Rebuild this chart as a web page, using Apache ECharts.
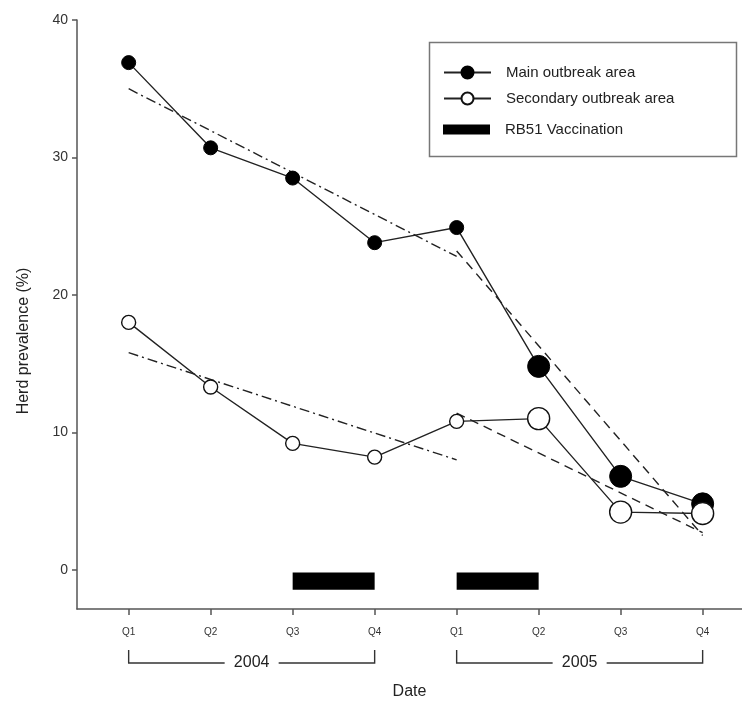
<!DOCTYPE html>
<html>
<head>
<meta charset="utf-8">
<script src="https://cdn.jsdelivr.net/npm/echarts@6/dist/echarts.min.js"></script>
<style>
  html, body { margin: 0; padding: 0; background: #fff; }
  #chart { width: 742px; height: 713px; }
</style>
</head>
<body>
<div id="chart"></div>
<script>
// quarters on the x axis (index 0..7)
const quarterLabels = ["Q1", "Q2", "Q3", "Q4", "Q1", "Q2", "Q3", "Q4"];
const mainValues = [36.9, 30.7, 28.5, 23.8, 24.9, 14.8, 6.8, 4.8];
const secondaryValues = [18.0, 13.3, 9.2, 8.2, 10.8, 11.0, 4.2, 4.1];

// fitted trend lines: [x, y] end points
const mainTrend2004 = [[0, 35.0], [4, 22.8]];
const mainTrend2005 = [[4, 23.2], [7, 2.5]];
const secondaryTrend2004 = [[0, 15.8], [4, 8.0]];
const secondaryTrend2005 = [[4, 11.4], [7, 2.7]];

// vaccination periods (quarter index start / end)
const vaccStart = [2, 4];
const vaccEnd = [3, 5];

// year brackets under the axis
const years = ["2004", "2005"];
const yearStart = [0, 4];
const yearEnd = [3, 7];

const yTicks = [0, 10, 20, 30, 40];
const Y_MIN = -2.85;
const FONT = "Liberation Sans, Arial, Helvetica, sans-serif";

const chart = echarts.init(document.getElementById("chart"));

// bigger markers for the last quarters, like the original figure
const markerSize = (val, params) => (params.dataIndex >= 5 ? 22 : 14);

const trendSeries = (name, data, dash) => ({
  name: name,
  type: "line",
  data: data,
  symbol: "none",
  silent: true,
  z: 1,
  lineStyle: { color: "#222", width: 1.4, type: dash },
});

const option = {
  animation: false,
  backgroundColor: "#fff",
  textStyle: { fontFamily: FONT },
  grid: { left: 77, right: 0, top: 20, bottom: 104 },
  legend: [
    {
      data: ["Main outbreak area", "Secondary outbreak area"],
      orient: "vertical",
      left: 443,
      top: 65,
      padding: 0,
      itemWidth: 47,
      itemHeight: 15,
      itemGap: 11,
      selectedMode: false,
      textStyle: { fontSize: 15, color: "#222", fontFamily: FONT, padding: [0, 0, 0, 10] },
    },
    {
      data: [{ name: "RB51 Vaccination", icon: "rect" }],
      orient: "vertical",
      left: 443,
      top: 122,
      padding: 0,
      itemWidth: 47,
      itemHeight: 10,
      selectedMode: false,
      textStyle: { fontSize: 15, color: "#222", fontFamily: FONT, padding: [0, 0, 0, 10] },
    },
  ],
  graphic: [
    {
      type: "rect",
      shape: { x: 429.5, y: 42.5, width: 307, height: 114 },
      style: { fill: "none", stroke: "#777", lineWidth: 1.5 },
      z: 0,
    },
    {
      type: "text",
      x: 24,
      y: 341,
      rotation: Math.PI / 2,
      style: {
        text: "Herd prevalence (%)",
        font: "16px " + FONT,
        fill: "#222",
        textAlign: "center",
        textVerticalAlign: "middle",
      },
    },
  ],
  xAxis: {
    type: "value",
    min: -0.63,
    max: 7.48,
    name: "Date",
    nameLocation: "middle",
    nameGap: 75,
    nameTextStyle: { fontSize: 16, color: "#222", fontFamily: FONT },
    splitLine: { show: false },
    axisLine: { onZero: false, lineStyle: { color: "#555", width: 1.5 } },
    axisTick: {
      customValues: [0, 1, 2, 3, 4, 5, 6, 7],
      length: 6,
      lineStyle: { color: "#555", width: 1.5 },
    },
    axisLabel: {
      customValues: [0, 1, 2, 3, 4, 5, 6, 7],
      formatter: (v) => quarterLabels[Math.round(v)],
      fontSize: 10,
      color: "#333",
      margin: 18,
    },
  },
  yAxis: {
    type: "value",
    min: Y_MIN,
    max: 40,
    splitLine: { show: false },
    axisLine: { show: true, onZero: false, lineStyle: { color: "#555", width: 1.5 } },
    axisTick: { show: true, customValues: yTicks, length: 5, lineStyle: { color: "#555", width: 1.5 } },
    axisLabel: { customValues: yTicks, fontSize: 14, color: "#333", margin: 9 },
  },
  series: [
    trendSeries("Main trend 2004", mainTrend2004, [10, 4, 2, 4]),
    trendSeries("Main trend 2005", mainTrend2005, [9, 6]),
    trendSeries("Secondary trend 2004", secondaryTrend2004, [10, 4, 2, 4]),
    trendSeries("Secondary trend 2005", secondaryTrend2005, [9, 6]),
    {
      name: "Main outbreak area",
      type: "line",
      data: mainValues.map((v, i) => [i, v]),
      symbol: "circle",
      symbolSize: markerSize,
      z: 3,
      itemStyle: { color: "#000", borderColor: "#000", borderWidth: 1 },
      lineStyle: { color: "#222", width: 1.4 },
    },
    {
      name: "Secondary outbreak area",
      type: "line",
      data: secondaryValues.map((v, i) => [i, v]),
      symbol: "circle",
      symbolSize: markerSize,
      z: 4,
      itemStyle: { color: "#fff", borderColor: "#111", borderWidth: 1.4 },
      lineStyle: { color: "#222", width: 1.4 },
    },
    {
      name: "RB51 Vaccination",
      type: "custom",
      data: vaccStart.map((s, i) => [s, vaccEnd[i]]),
      itemStyle: { color: "#000" },
      renderItem: (params, api) => {
        const a = api.coord([api.value(0), -0.2]);
        const b = api.coord([api.value(1), -1.45]);
        return {
          type: "rect",
          shape: { x: a[0], y: a[1], width: b[0] - a[0], height: b[1] - a[1] },
          style: { fill: "#000" },
        };
      },
    },
    {
      name: "Years",
      type: "custom",
      silent: true,
      data: years.map((y, i) => [yearStart[i], yearEnd[i]]),
      renderItem: (params, api) => {
        const a = api.coord([api.value(0), Y_MIN]);
        const b = api.coord([api.value(1), Y_MIN]);
        const top = a[1] + 41;
        const lineY = a[1] + 54;
        const mid = (a[0] + b[0]) / 2;
        const gap = 27;
        const stroke = { stroke: "#333", lineWidth: 1.4, fill: "none" };
        return {
          type: "group",
          children: [
            { type: "polyline", shape: { points: [[a[0], top], [a[0], lineY], [mid - gap, lineY]] }, style: stroke },
            { type: "polyline", shape: { points: [[mid + gap, lineY], [b[0], lineY], [b[0], top]] }, style: stroke },
            {
              type: "text",
              style: {
                x: mid,
                y: lineY,
                text: years[params.dataIndex],
                font: "16px " + FONT,
                fill: "#222",
                align: "center",
                verticalAlign: "middle",
              },
            },
          ],
        };
      },
    },
  ],
};

chart.setOption(option);
</script>
</body>
</html>
